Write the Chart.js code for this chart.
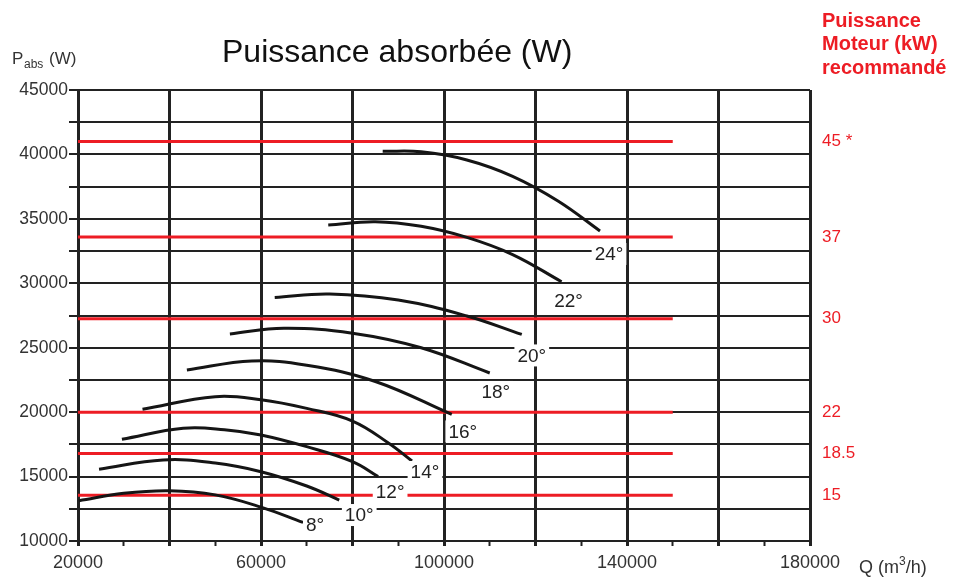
<!DOCTYPE html>
<html lang="fr">
<head>
<meta charset="UTF-8">
<title>Puissance absorbée (W)</title>
<script src="https://cdn.jsdelivr.net/npm/chart.js@4"></script>
<style>
  html, body { margin: 0; padding: 0; background: #fff; }
  #wrap { width: 972px; height: 577px; }
</style>
</head>
<body>
<div id="wrap"><canvas id="chart" width="972" height="577"></canvas></div>
<script>
// Fan curves, [Q (m3/h), P abs (W)], one per blade angle
const curve8  = [[20200,13130],[30000,13700],[40000,13900],[50000,13580],[60000,12630],[69200,11440]];
const curve10 = [[24600,15570],[38600,16290],[50000,16050],[60000,15380],[70000,14270],[77100,13180]];
const curve12 = [[29600,17900],[43000,18750],[52000,18640],[60000,18230],[70000,17320],[80000,16160],[85600,15000]];
const curve14 = [[34100,20220],[50000,21200],[60000,20960],[70000,20290],[80000,19310],[88000,17570],[93000,16210]];
const curve16 = [[43800,23270],[58000,23970],[70000,23640],[85000,22380],[101700,19820]];
const curve18 = [[53200,26070],[65000,26510],[80000,26130],[95000,25000],[110000,23040]];
const curve20 = [[63000,28900],[75000,29170],[90000,28700],[105000,27460],[117000,26030]];
const curve22 = [[74700,34520],[85000,34780],[95000,34420],[105000,33560],[115000,32230],[125700,30120]];
const curve24 = [[86600,40240],[95000,40200],[105000,39570],[115000,38300],[125000,36370],[134100,34060]];

const curves = [curve8, curve10, curve12, curve14, curve16, curve18, curve20, curve22, curve24];
const angles = ['8°', '10°', '12°', '14°', '16°', '18°', '20°', '22°', '24°'];

// recommended motor power (kW) and the absorbed power level of each red line
const motorKW    = ['45 *', '37', '30', '22', '18.5', '15'];
const motorPower = [41000, 33600, 27250, 20000, 16800, 13550];
const redLineQ   = [20000, 150000];

// axis labels
const xTickLabels = [20000, 60000, 100000, 140000, 180000];
const yTickLabels = [10000, 15000, 20000, 25000, 30000, 35000, 40000, 45000];

// where each angle label sits relative to the end of its curve (px)
const labelOffsets = [[12, 2], [20, 15], [12, 15], [13, 11], [11, 17], [6, 19], [10, 21], [7, 19], [9, 23]];

const RED = '#ed1c24';
const INK = '#222';
const FONT = '"Liberation Sans", Arial, sans-serif';
Chart.defaults.font.family = FONT;

const datasets = [];
motorPower.forEach(p => {
  datasets.push({
    data: redLineQ.map(q => ({ x: q, y: p })),
    borderColor: RED, borderWidth: 3, pointRadius: 0, order: 2
  });
});
curves.forEach(c => {
  datasets.push({
    data: c.map(([q, p]) => ({ x: q, y: p })),
    borderColor: '#151515', borderWidth: 3, pointRadius: 0,
    tension: 0.4, borderCapStyle: 'butt', order: 1
  });
});

const textPlugin = {
  id: 'texts',
  afterDatasetsDraw(chart) {
    const { ctx, scales } = chart;
    ctx.save();
    // angle labels on white boxes
    ctx.font = '19px ' + FONT;
    ctx.textBaseline = 'middle';
    ctx.textAlign = 'center';
    curves.forEach((c, i) => {
      const last = c[c.length - 1];
      const x = scales.x.getPixelForValue(last[0]) + labelOffsets[i][0];
      const y = scales.y.getPixelForValue(last[1]) + labelOffsets[i][1];
      const w = ctx.measureText(angles[i]).width + 6;
      ctx.fillStyle = '#fff';
      ctx.fillRect(x - w / 2, y - 11, w, 22);
      ctx.fillStyle = INK;
      ctx.fillText(angles[i], x, y + 1);
    });

    ctx.textAlign = 'left';
    ctx.textBaseline = 'alphabetic';
    // title
    ctx.fillStyle = '#111';
    ctx.font = '32px ' + FONT;
    ctx.fillText('Puissance absorbée (W)', 222, 62);

    // y axis title
    ctx.fillStyle = '#333';
    ctx.font = '17px ' + FONT;
    ctx.fillText('P', 12, 64);
    ctx.font = '12px ' + FONT;
    ctx.fillText('abs', 24, 68);
    ctx.font = '17px ' + FONT;
    ctx.fillText('(W)', 49, 64);

    // x axis title
    let x = 859;
    ctx.font = '18px ' + FONT;
    ctx.fillText('Q (m', x, 573);
    x += ctx.measureText('Q (m').width;
    ctx.font = '12px ' + FONT;
    ctx.fillText('3', x, 565);
    x += ctx.measureText('3').width;
    ctx.font = '18px ' + FONT;
    ctx.fillText('/h)', x, 573);

    // right header
    ctx.fillStyle = RED;
    ctx.font = 'bold 20px ' + FONT;
    ctx.fillText('Puissance', 822, 27);
    ctx.fillText('Moteur (kW)', 822, 50);
    ctx.fillText('recommandé', 822, 74);
    ctx.restore();
  }
};

new Chart(document.getElementById('chart'), {
  type: 'line',
  data: { datasets },
  options: {
    responsive: false,
    animation: false,
    layout: { padding: { top: 90, left: 0, right: 0, bottom: 0 } },
    plugins: { legend: { display: false }, tooltip: { enabled: false } },
    scales: {
      x: {
        type: 'linear', min: 20000, max: 180000,
        afterFit: s => { s.height = 36; },
        border: { display: false },
        grid: {
          color: c => c.tick.value % 20000 === 0 ? INK : 'rgba(0,0,0,0)',
          lineWidth: 3,
          tickColor: INK,
          tickWidth: c => c.tick.value % 20000 === 0 ? 3 : 2,
          tickLength: 5
        },
        ticks: {
          stepSize: 10000, autoSkip: false, maxRotation: 0, padding: 6,
          color: '#333', font: { size: 18 },
          callback: v => xTickLabels.includes(v) ? String(v) : ''
        }
      },
      y: {
        type: 'linear', min: 10000, max: 45000,
        afterFit: s => { s.width = 78; },
        border: { display: false },
        grid: { color: INK, lineWidth: 2, tickColor: INK, tickLength: 9 },
        ticks: {
          stepSize: 2500, autoSkip: false, padding: 1,
          color: '#333', font: { size: 17.5 },
          callback: v => yTickLabels.includes(v) ? String(v) : ''
        }
      },
      y2: {
        type: 'linear', position: 'right', min: 10000, max: 45000,
        afterFit: s => { s.width = 162; },
        afterBuildTicks: s => { s.ticks = motorPower.map(v => ({ value: v })); },
        border: { display: false },
        grid: { display: false, drawTicks: false },
        ticks: {
          autoSkip: false, padding: 12, color: RED, font: { size: 17 },
          callback: (v, i) => motorKW[i]
        }
      }
    }
  },
  plugins: [textPlugin]
});
</script>
</body>
</html>
